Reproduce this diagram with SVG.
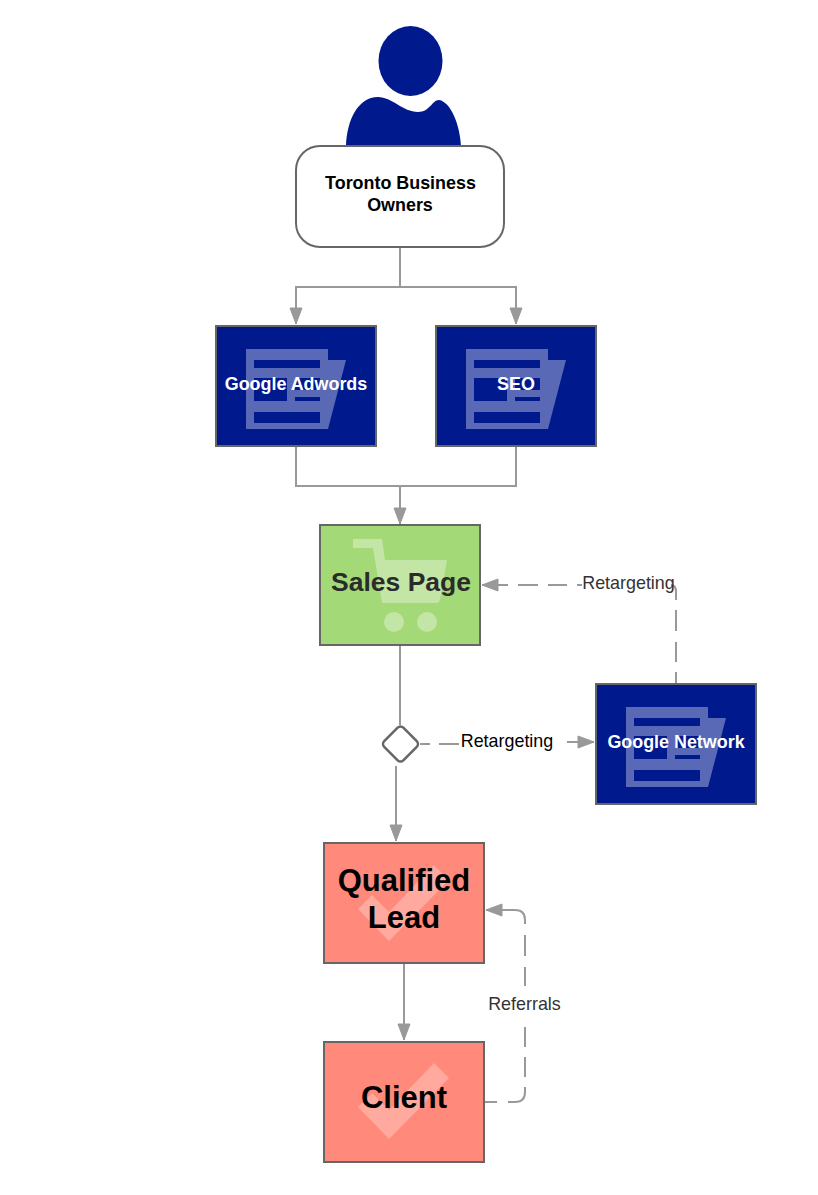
<svg xmlns="http://www.w3.org/2000/svg" width="818" height="1195" viewBox="0 0 818 1195">
<style>
text{font-family:"Liberation Sans",Arial,sans-serif;text-anchor:middle}
.box{stroke:#666;stroke-width:2}
.navy{fill:#001a8e}
.green{fill:#a3d977}
.red{fill:#ff8a7c}
.ic{fill:#fff;fill-opacity:.35}
.ck{fill:#fff;fill-opacity:.27}
.cn{fill:none;stroke:#999;stroke-width:2}
.w{fill:#fff;font-weight:bold;font-size:17.900px}
.lab{font-size:17.900px;fill:#333}
</style>
<defs>
<marker id="a" markerUnits="userSpaceOnUse" markerWidth="20" markerHeight="14" refX="17" refY="7" orient="auto"><path d="M1 1L17 7L1 13Z" fill="#999" stroke="#999"/></marker>
<g id="doc"><path fill-rule="evenodd" class="ic" d="M0 0H82V11H100L82 80H0ZM8 11V19H74V11ZM8 29V52H41V29ZM49 29V41H74V29ZM49 48V52H74V48ZM8 63V74H74V63Z"/></g>
<path id="check" class="ck" d="M0 44L14 30L31 47L76 0L91 15L31 76Z"/>
</defs>
<g id="connectors">
<path class="cn" d="M400 247V287H296V324" marker-end="url(#a)"/>
<path class="cn" d="M400 287H516V324" marker-end="url(#a)"/>
<path class="cn" d="M296 446V486H516V446"/>
<path class="cn" d="M400 486V524" marker-end="url(#a)"/>
<path class="cn" d="M400 645V725"/>
<path class="cn" d="M396 766V841" marker-end="url(#a)"/>
<path class="cn" d="M420 744H430M439 744H459"/>
<path class="cn" d="M567 742H594" marker-end="url(#a)"/>
<path class="cn" d="M676 684V672M676 662V642M676 631V610M676 600V592Q676 585 671 585M567 585H548M538 585H518M582 585H577"/>
<path class="cn" d="M508 585H482" marker-end="url(#a)"/>
<path class="cn" d="M404 963V1040" marker-end="url(#a)"/>
<path class="cn" d="M485 1102H497M508 1102H515Q525 1102 525 1092V1087M525 1077V1057M525 1047V1027M525 986V967M525 956V935M525 924V920Q525 910 515 910H486" marker-end="url(#a)"/>
</g>
<g id="person"><path class="navy" d="M346 146C347 120 358 97 378 97C392 97 403 112 418 112C430 112 432 100 439 100C451 102 460 125 461 146Z"/><ellipse class="navy" cx="410.500" cy="61" rx="32" ry="35"/></g>
<g id="owners"><rect x="296" y="146" width="208" height="101" rx="24" fill="#fff" class="box"/><text x="400.500" y="189" font-size="17.900" font-weight="bold" fill="#000">Toronto Business</text><text x="400" y="211" font-size="17.900" font-weight="bold" fill="#000">Owners</text></g>
<g id="adwords"><rect x="216" y="326" width="160" height="120" class="box navy"/><use href="#doc" x="246" y="349"/><text x="296" y="390" class="w">Google Adwords</text></g>
<g id="seo"><rect x="436" y="326" width="160" height="120" class="box navy"/><use href="#doc" x="466" y="349"/><text x="516" y="390" class="w">SEO</text></g>
<g id="sales"><rect x="320" y="525" width="160" height="120" class="box green"/><path class="ic" d="M353 539H382L385 560H447L440 600Q439 603 436 603H382L373 548H353Z"/><circle class="ic" cx="394" cy="622" r="10"/><circle class="ic" cx="427" cy="622" r="10"/><text x="401" y="590.500" font-size="26.500px" font-weight="bold" fill="#2b2b2b">Sales Page</text></g>
<g id="decision"><rect x="387" y="730.500" width="27" height="27" rx="4" transform="rotate(45 400.500 744)" fill="#fff" stroke="#666" stroke-width="2.500"/></g>
<g id="network"><rect x="596" y="684" width="160" height="120" class="box navy"/><use href="#doc" x="626" y="707"/><text x="676" y="748" class="w">Google Network</text></g>
<g id="qualified"><rect x="324" y="843" width="160" height="120" class="box red"/><use href="#check" x="358" y="865"/><text x="404" y="891" font-size="31px" font-weight="bold" fill="#000">Qualified</text><text x="404" y="928" font-size="31px" font-weight="bold" fill="#000">Lead</text></g>
<g id="client"><rect x="324" y="1042" width="160" height="120" class="box red"/><use href="#check" x="358" y="1063"/><text x="404" y="1108" font-size="31px" font-weight="bold" fill="#000">Client</text></g>
<g id="labels">
<text x="628.500" y="589" class="lab">Retargeting</text>
<text x="507" y="747" class="lab" style="fill:#000">Retargeting</text>
<text x="524.500" y="1010" class="lab">Referrals</text>
</g>
</svg>
